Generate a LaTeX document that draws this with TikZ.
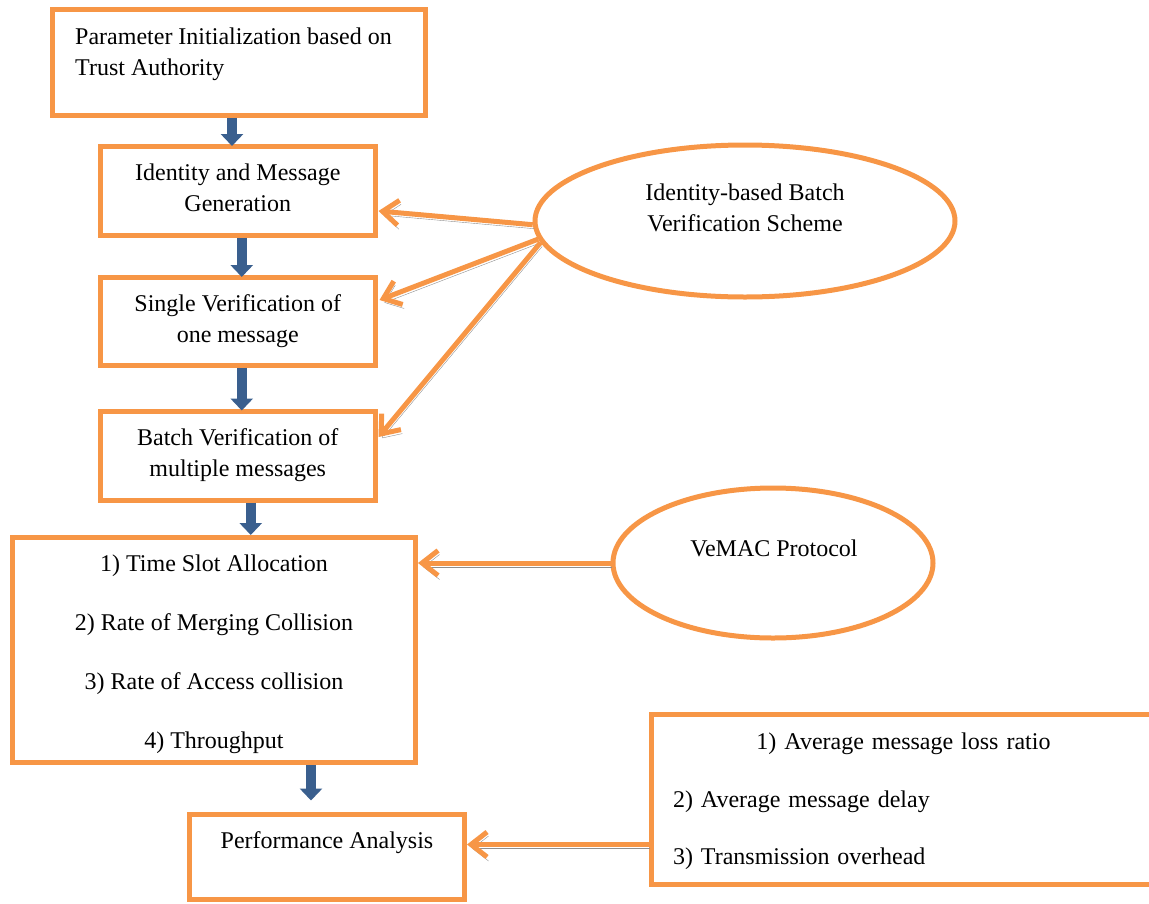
\documentclass[tikz,border=0pt]{standalone}
\usepackage{fontspec}
\setmainfont{Liberation Serif}
\usetikzlibrary{arrows.meta,shapes.geometric,positioning,calc}
\definecolor{boxorange}{HTML}{F79646}
\definecolor{flowblue}{HTML}{3A5F8E}
\definecolor{shadowgray}{HTML}{8E8E8E}
\tikzset{
  box/.style={draw=boxorange, line width=5pt, rectangle, inner sep=0pt,
    font=\fontsize{24}{31}\selectfont, align=center},
  oval/.style={draw=boxorange, line width=5pt, ellipse, inner sep=0pt},
  txt/.style={inner sep=0pt, font=\fontsize{24}{31}\selectfont},
  flow/.style={flowblue, line width=10pt, -{Triangle[length=12pt,width=22pt]}},
  link/.style={boxorange, line width=5pt, -{Straight Barb[length=16pt,width=25pt]},
    preaction={draw=shadowgray, -{Straight Barb[length=16pt,width=25pt]},
      transform canvas={shift={(1.5pt,-4pt)}}}},
}
\begin{document}
\begin{tikzpicture}[x=1pt,y=-1pt]
\clip (0,0) rectangle (1149,903);
% left column
\node[box, minimum width=373pt, minimum height=106pt] (param) at (239,62.5) {};
\node[txt, align=left, anchor=north west] (paramtxt) at (75,27.5) {Parameter Initialization based on\\Trust Authority};
\node[box, minimum width=274.5pt, minimum height=89pt] (ident) at (237.75,191) {Identity and Message\\Generation\rule[-7pt]{0pt}{1pt}};
\node[box, minimum width=274.5pt, minimum height=88pt] (single) at (237.75,321.5) {Single Verification of\\one message};
\node[box, minimum width=274.5pt, minimum height=89pt] (batch) at (237.75,455.5) {Batch Verification of\\multiple messages};
\node[box, minimum width=403pt, minimum height=225pt] (slots) at (214,650) {\rule{0pt}{24.5pt}1) Time Slot Allocation\\[28pt] 2) Rate of Merging Collision\\[28pt] 3) Rate of Access collision\\[28pt] 4) Throughput};
\node[box, minimum width=275pt, minimum height=85pt] (perf) at (327,856.5) {};
\node[txt, anchor=base] (perftxt) at (327,848) {Performance Analysis};
% right side
\node[oval, minimum width=420pt, minimum height=152pt] (ibv) at (745,221) {};
\node[txt, align=center] (ibvtxt) at (745,207.5) {Identity-based Batch\\Verification Scheme};
\node[oval, minimum width=320pt, minimum height=150pt] (vemac) at (773,563) {};
\node[txt, anchor=base] (vemactxt) at (774,556) {VeMAC Protocol};
\node[box, minimum width=505pt, minimum height=170pt, text width=461pt, align=left] (metrics) at (903.5,799) {\rule{0pt}{21.5pt}\makebox[\hsize][c]{1) Average message loss ratio}\\[26.5pt] 2) Average message delay\\[26.5pt] 3) Transmission overhead};
% flow
\draw[flow] ($(param.south)+(-7,0)$) -- ($(param.south |- ident.north)+(-7,2)$);
\draw[flow] ($(ident.south)+(4,0)$) -- ($(ident.south |- single.north)+(4,2)$);
\draw[flow] ($(single.south)+(4,0)$) -- ($(single.south |- batch.north)+(4,2)$);
\draw[flow] ($(batch.south)+(13,0)$) -- ($(batch.south |- slots.north)+(13,0)$);
\draw[flow] ($(slots.south)+(97,0)$) -- ($(slots.south |- perf.north)+(97,-11)$);
% links
\draw[link] (ibv.181) -- ($(ident.east)+(1,20)$);
\draw[link] (ibv.185) -- ($(single.east)+(2,-21.5)$);
\draw[link] (ibv.186) -- ($(batch.east)+(1,-18.5)$);
\draw[link] (vemac.west) -- (vemac.west -| slots.east);
\coordinate (perfin) at ($(perf.east)+(0,-12)$);
\draw[link] (perfin -| metrics.west) -- (perfin);
\end{tikzpicture}
\end{document}
